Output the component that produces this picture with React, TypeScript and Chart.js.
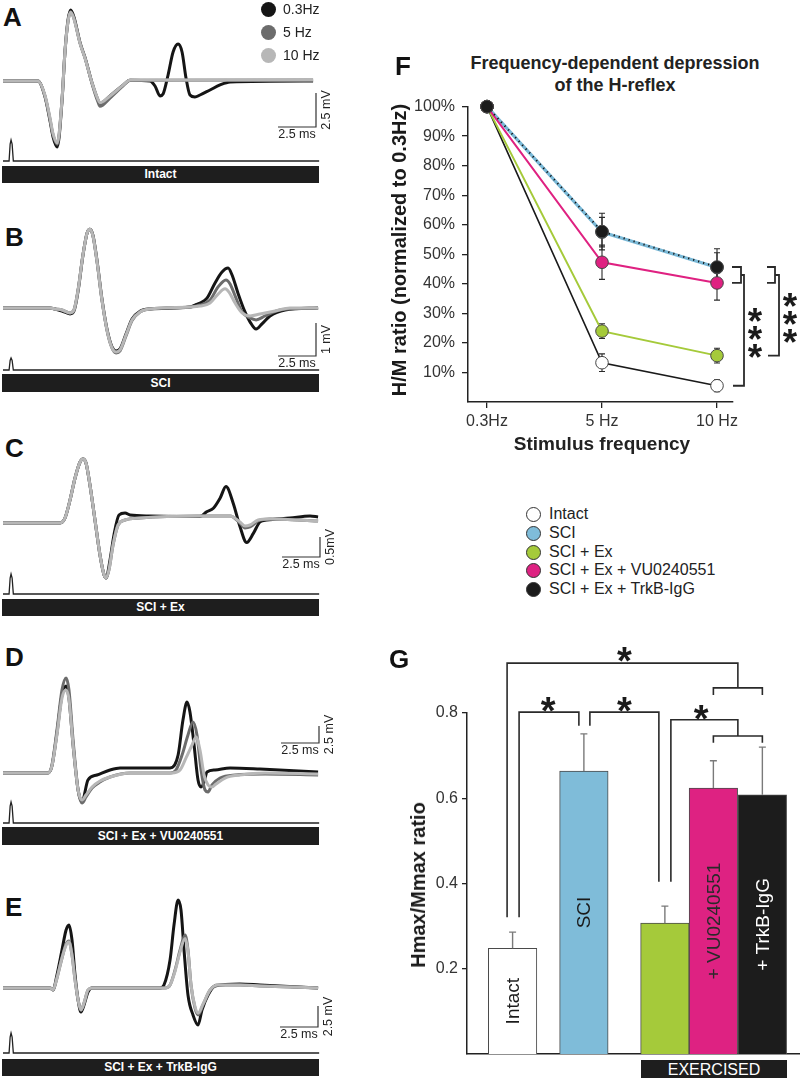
import React, { useEffect, useRef } from 'react';
import { Chart, registerables } from 'chart.js';

Chart.register(...registerables);

const FONT = "'Liberation Sans', Arial, Helvetica, sans-serif";
Chart.defaults.font.family = FONT;

/* ================= DATA ================= */

/* Panels A–E : evoked responses, [time (ms), amplitude (mV)] */
const TRACE_FREQS = ['0.3Hz', '5 Hz', '10 Hz'];
const STIMULUS = [[0, 0], [0.4, 0], [0.47, 0.8], [0.53, 1], [0.6, 0.8], [0.68, 0], [20.8, 0]];

const A_03HZ = [[0,0],[2.3,0],[2.76,-1.15],[3.09,-2.9],[3.29,-4.1],[3.57,-4.85],[3.88,-1.5],[4.08,2.2],[4.28,4.5],[4.45,5.22],[4.67,4.7],[5.07,2.8],[5.4,1.7],[5.86,-0.15],[6.25,-1.4],[6.38,-1.65],[7.04,-1.1],[7.9,-0.3],[8.36,0.05],[9.67,0],[10.0,-0.37],[10.33,-1.1],[10.53,-0.96],[10.86,0.44],[11.19,2.13],[11.52,2.72],[11.78,2.13],[12.04,0.22],[12.3,-1.03],[12.63,-1.18],[12.96,-1.03],[13.62,-0.66],[14.28,-0.29],[14.94,-0.07],[20.4,0]];
const A_5HZ = [[0,0],[2.3,0],[2.76,-1.1],[3.09,-2.8],[3.29,-3.95],[3.57,-4.65],[3.88,-1.4],[4.08,2.2],[4.28,4.4],[4.45,5.1],[4.67,4.6],[5.07,2.8],[5.4,1.7],[5.86,-0.2],[6.25,-1.55],[6.38,-1.85],[7.04,-1.25],[7.9,-0.35],[8.36,0.05],[20.4,0.07]];
const A_10HZ = [[0,0],[2.3,0],[2.76,-1.05],[3.09,-2.7],[3.29,-3.85],[3.57,-4.55],[3.88,-1.4],[4.08,2.2],[4.28,4.4],[4.45,5.05],[4.67,4.55],[5.07,2.75],[5.4,1.65],[5.86,-0.15],[6.25,-1.35],[6.38,-1.6],[7.04,-1.1],[7.9,-0.3],[8.36,0.07],[20.4,0.07]];

const B_03HZ = [[0,0],[3.09,0],[3.42,-0.03],[3.88,-0.09],[4.41,-0.18],[4.67,-0.09],[4.94,0.52],[5.26,1.6],[5.53,2.27],[5.72,2.39],[5.92,2.2],[6.19,1.42],[6.51,0.27],[6.84,-0.64],[7.17,-1.18],[7.44,-1.3],[7.7,-1.24],[8.09,-0.79],[8.49,-0.33],[9.01,-0.1],[9.67,-0.03],[12.3,0.03],[12.63,0.09],[12.96,0.15],[13.42,0.3],[13.95,0.76],[14.41,1.09],[14.81,1.21],[15.07,1.0],[15.46,0.45],[15.92,-0.12],[16.25,-0.42],[16.65,-0.64],[17.04,-0.48],[17.57,-0.24],[18.56,-0.06],[20.73,0]];
const B_5HZ = [[0,0],[3.09,0],[3.42,-0.03],[3.88,-0.06],[4.41,-0.15],[4.67,-0.06],[4.94,0.55],[5.26,1.61],[5.53,2.27],[5.72,2.39],[5.92,2.18],[6.19,1.39],[6.51,0.24],[6.84,-0.67],[7.17,-1.21],[7.44,-1.36],[7.7,-1.3],[8.09,-0.85],[8.49,-0.38],[9.01,-0.12],[9.67,-0.03],[12.3,0.03],[12.96,0.09],[13.62,0.24],[14.15,0.64],[14.67,0.85],[14.94,0.73],[15.33,0.3],[15.73,-0.12],[16.25,-0.3],[16.65,-0.36],[17.24,-0.24],[18.23,-0.06],[20.73,0]];
const B_10HZ = [[0,0],[3.09,0],[3.42,-0.03],[3.88,-0.06],[4.41,-0.15],[4.67,-0.06],[4.94,0.55],[5.26,1.61],[5.53,2.27],[5.72,2.39],[5.92,2.18],[6.19,1.39],[6.51,0.24],[6.84,-0.67],[7.17,-1.21],[7.44,-1.33],[7.7,-1.27],[8.09,-0.82],[8.49,-0.36],[9.01,-0.12],[9.67,-0.03],[12.3,0.03],[12.96,0.06],[13.62,0.15],[14.15,0.42],[14.61,0.58],[14.87,0.48],[15.27,0.15],[15.73,-0.15],[16.25,-0.24],[16.91,-0.18],[17.9,-0.09],[18.88,0],[20.73,0]];

const C_03HZ = [[0,0],[3.75,0],[4.08,0.125],[4.41,0.575],[4.74,1.125],[5.07,1.525],[5.26,1.6],[5.46,1.5],[5.72,0.95],[6.05,0.075],[6.38,-0.8],[6.65,-1.3],[6.78,-1.375],[7.04,-0.925],[7.3,-0.3],[7.63,0.2],[8.03,0.25],[8.36,0.2],[9.67,0.175],[12.96,0.16],[13.4,0.28],[13.84,0.37],[14.28,0.62],[14.67,0.91],[15.15,0.49],[15.59,-0.09],[16.03,-0.49],[16.47,-0.26],[16.91,0.03],[17.35,0.075],[18.88,0.125],[20.2,0.175],[20.73,0.15]];
const C_5HZ = [[0,0],[3.75,0],[4.08,0.125],[4.41,0.575],[4.74,1.125],[5.07,1.525],[5.26,1.6],[5.46,1.5],[5.72,0.95],[6.05,0.075],[6.38,-0.8],[6.65,-1.3],[6.78,-1.375],[6.97,-1.175],[7.24,-0.55],[7.57,-0.05],[8.03,0.075],[9.01,0.125],[12.96,0.175],[14.94,0.175],[15.59,0.0],[15.92,-0.125],[16.25,-0.1],[16.78,0.05],[17.57,0.1],[20.73,0.05]];
const C_10HZ = [[0,0],[3.75,0],[4.08,0.125],[4.41,0.575],[4.74,1.125],[5.07,1.525],[5.26,1.6],[5.46,1.5],[5.72,0.95],[6.05,0.075],[6.38,-0.8],[6.65,-1.3],[6.78,-1.375],[6.97,-1.175],[7.24,-0.55],[7.57,-0.05],[8.03,0.075],[9.01,0.125],[12.96,0.175],[14.94,0.175],[15.59,0.025],[15.92,-0.075],[16.25,-0.05],[16.78,0.075],[17.57,0.1],[20.73,0.05]];

const D_03HZ = [[0,0],[2.96,0],[3.22,1.03],[3.55,5.88],[3.88,11.47],[4.15,12.79],[4.34,11.0],[4.61,4.12],[4.94,-2.5],[5.2,-4.2],[5.59,-1.03],[6.18,-0.29],[7.04,0.44],[7.7,0.74],[10.99,0.74],[11.52,2.65],[11.84,7.79],[12.11,10.44],[12.3,8.97],[12.57,4.12],[12.83,-1.03],[13.03,-2.06],[13.23,-1.32],[13.42,0.15],[13.95,0.44],[14.94,0.74],[16.91,0.59],[20.73,0.15]];
const D_5HZ = [[0,0],[2.96,0],[3.22,1.18],[3.55,6.32],[3.88,12.2],[4.15,13.97],[4.34,12.2],[4.61,4.85],[4.94,-2.5],[5.2,-4.41],[5.46,-3.53],[5.86,-2.21],[6.38,-1.32],[7.04,-0.59],[8.36,0],[10.99,0],[11.38,0.44],[11.78,2.65],[12.17,5.59],[12.5,7.5],[12.76,5.59],[13.03,0.44],[13.29,-2.5],[13.49,-2.79],[13.75,-1.76],[14.28,-0.74],[15.27,-0.29],[17.24,-0.15],[20.73,-0.29]];
const D_10HZ = [[0,0],[2.96,0],[3.22,1.03],[3.55,5.6],[3.88,11.0],[4.15,12.2],[4.34,10.8],[4.61,4.1],[4.94,-2.5],[5.2,-3.97],[5.46,-3.23],[5.86,-2.06],[6.38,-1.18],[7.04,-0.59],[8.36,0],[11.12,0],[11.65,0.44],[12.04,2.21],[12.44,4.12],[12.7,5.29],[12.96,3.38],[13.23,-0.3],[13.49,-1.76],[13.75,-2.06],[14.01,-1.62],[14.61,-0.74],[15.59,-0.29],[17.24,0],[20.73,-0.15]];

const E_03HZ = [[0,0],[3.09,0],[3.29,-0.24],[3.55,1.55],[3.88,4.52],[4.15,6.9],[4.34,7.5],[4.54,5.71],[4.74,1.55],[4.94,-1.43],[5.13,-2.86],[5.33,-2.02],[5.59,-0.48],[5.86,0],[10.33,0],[10.59,0.36],[10.99,3.33],[11.25,7.5],[11.52,10.47],[11.71,9.28],[11.91,4.52],[12.17,-0.83],[12.5,-3.21],[12.83,-4.4],[13.09,-2.62],[13.49,-0.83],[13.95,0.24],[15.59,0.48],[16.91,0.36],[20.73,0]];
const E_5HZ = [[0,0],[3.09,0],[3.29,-0.24],[3.55,1.19],[3.88,3.57],[4.15,5.24],[4.34,5.6],[4.54,3.93],[4.74,0.95],[4.94,-1.43],[5.13,-2.62],[5.33,-1.79],[5.59,-0.24],[5.86,0],[10.66,0],[10.99,0.36],[11.32,2.14],[11.65,4.52],[11.98,6.3],[12.17,4.52],[12.37,0.36],[12.63,-2.38],[12.83,-3.21],[13.16,-2.02],[13.62,-0.24],[14.15,0.36],[15.59,0.36],[16.91,0.24],[20.73,0]];
const E_10HZ = [[0,0],[3.09,0],[3.29,-0.24],[3.55,1.19],[3.88,3.57],[4.15,5.1],[4.34,5.47],[4.54,3.93],[4.74,0.95],[4.94,-1.43],[5.13,-2.62],[5.33,-1.79],[5.59,-0.24],[5.86,0],[10.66,0],[10.99,0.36],[11.32,2.0],[11.65,4.3],[11.98,5.9],[12.17,4.4],[12.37,0.36],[12.63,-2.2],[12.83,-3.0],[13.16,-1.9],[13.62,-0.24],[14.15,0.36],[15.59,0.36],[16.91,0.24],[20.73,0]];

/* Panel F : H/M ratio normalised to 0.3 Hz (%) */
const F_FREQS = ['0.3Hz', '5 Hz', '10 Hz'];
const F_TICKS = [10, 20, 30, 40, 50, 60, 70, 80, 90, 100];
const F_GROUPS = ['Intact', 'SCI', 'SCI + Ex', 'SCI + Ex + VU0240551', 'SCI + Ex + TrkB-IgG'];
const F_INTACT = [100, 13.3, 5.5];
const F_INTACT_ERR = [0, 3, 2];
const F_SCI = [100, 57.5, 45.5];
const F_SCI_ERR = [0, 5, 5];
const F_EX = [100, 24, 15.7];
const F_EX_ERR = [0, 2.5, 2.5];
const F_VU = [100, 47.3, 40.3];
const F_VU_ERR = [0, 5.8, 5.8];
const F_TRKB = [100, 57.7, 45.7];
const F_TRKB_ERR = [0, 6.2, 6.2];

/* Panel G : Hmax/Mmax ratio */
const G_GROUPS = ['Intact', 'SCI', 'SCI + Ex', 'SCI + Ex + VU0240551', 'SCI + Ex + TrkB-IgG'];
const G_BAR_TEXT = ['Intact', 'SCI', '', '+ VU0240551', '+ TrkB-IgG'];
const G_VALUES = [0.248, 0.664, 0.307, 0.624, 0.608];
const G_ERRORS = [0.038, 0.087, 0.04, 0.064, 0.112];
const G_TICKS = [0.2, 0.4, 0.6, 0.8];
/* significance brackets: [bar index, pixel nudge, value] */
const G_BRACKETS = [
  [[0, -5.5, 0.321], [0, -5.5, 0.917], [3.5, 0, 0.917], [3.5, 0, 0.859]],
  [[3, 0, 0.842], [3, 0, 0.859], [4, 0, 0.859], [4, 0, 0.842]],
  [[0, 6.5, 0.321], [0, 6.5, 0.802], [1, -5, 0.802], [1, -5, 0.77]],
  [[1, 6, 0.77], [1, 6, 0.802], [2, -6, 0.802], [2, -6, 0.404]],
  [[2, 6, 0.404], [2, 6, 0.784], [3.5, 0, 0.784], [3.5, 0, 0.746]],
  [[3, 0, 0.73], [3, 0, 0.746], [4, 0, 0.746], [4, 0, 0.73]],
];
const G_STARS = [[1.5, 0.943], [0.5, 0.826], [1.5, 0.826], [2.75, 0.807]];

/* ================= STYLE / LAYOUT ================= */
const TRACE_COLORS = ['#151515', '#6c6c6c', '#b7b7b7'];
const GROUP_COLORS = ['#ffffff', '#7fbcd9', '#a5ca3a', '#de2282', '#1c1c1c'];
const G_TEXT_COLORS = ['#1a1a1a', '#1a1a1a', '#1a1a1a', '#2a2a2a', '#ffffff'];
const PX_PER_MS = 38 / 2.5;
const TRACE_X0 = 3;
const TRACE_W = 345;
const G_POS = [0.94, 2.41, 4.08, 5.08, 6.09]; // bar centres on the x scale (bar-width units)

const TRACE_PANELS = [
  { letter: 'A', top: 0, height: 168, baseline: 81, mvPerPx: 2.5 / 34, stim: 161, pulse: 140, corner: [316, 127], scaleMv: 2.5, scaleLabel: '2.5 mV', barTop: 166, barH: 17, name: 'Intact', letterTop: 7, letterLeft: 3, traces: [A_03HZ, A_5HZ, A_10HZ] },
  { letter: 'B', top: 200, height: 176, baseline: 308, mvPerPx: 1 / 33, stim: 370, pulse: 358, corner: [316, 356], scaleMv: 1, scaleLabel: '1 mV', barTop: 374, barH: 18, name: 'SCI', letterTop: 227, letterLeft: 5, traces: [B_03HZ, B_5HZ, B_10HZ] },
  { letter: 'C', top: 420, height: 178, baseline: 523, mvPerPx: 0.5 / 20, stim: 594, pulse: 574, corner: [320, 557], scaleMv: 0.5, scaleLabel: '0.5mV', barTop: 599, barH: 17, name: 'SCI + Ex', letterTop: 438, letterLeft: 5, traces: [C_03HZ, C_5HZ, C_10HZ] },
  { letter: 'D', top: 640, height: 186, baseline: 773, mvPerPx: 2.5 / 17, stim: 823, pulse: 802, corner: [319, 743], scaleMv: 2.5, scaleLabel: '2.5 mV', barTop: 827, barH: 18, name: 'SCI + Ex + VU0240551', letterTop: 647, letterLeft: 5, traces: [D_03HZ, D_5HZ, D_10HZ] },
  { letter: 'E', top: 860, height: 196, baseline: 988, mvPerPx: 2.5 / 21, stim: 1053, pulse: 1033, corner: [318, 1027], scaleMv: 2.5, scaleLabel: '2.5 mV', barTop: 1059, barH: 17, name: 'SCI + Ex + TrkB-IgG', letterTop: 897, letterLeft: 5, traces: [E_03HZ, E_5HZ, E_10HZ] },
];

/* ================= CHART CONFIGS ================= */
function traceConfig(p: any) {
  const H = p.height;
  const b = p.baseline - p.top;
  const m = p.mvPerPx;
  const s = p.stim - p.top;
  const u = p.stim - p.pulse;
  const scaleBar = {
    id: 'scaleBar',
    afterDraw(chart: any) {
      const { ctx } = chart;
      const x = chart.scales.x, y = chart.scales.y;
      const cx = p.corner[0], cy = p.corner[1] - p.top;
      const h = x.getPixelForValue(2.5) - x.getPixelForValue(0);
      const v = y.getPixelForValue(0) - y.getPixelForValue(p.scaleMv);
      ctx.save();
      ctx.strokeStyle = '#333';
      ctx.lineWidth = 1.2;
      ctx.beginPath();
      ctx.moveTo(cx - h, cy);
      ctx.lineTo(cx, cy);
      ctx.lineTo(cx, cy - v);
      ctx.stroke();
      ctx.fillStyle = '#222';
      ctx.font = `12.5px ${FONT}`;
      ctx.textAlign = 'center';
      ctx.textBaseline = 'alphabetic';
      ctx.fillText('2.5 ms', cx - h / 2, cy + 10.5);
      ctx.translate(cx + 14, cy - v / 2);
      ctx.rotate(-Math.PI / 2);
      ctx.fillText(p.scaleLabel, 0, 0);
      ctx.restore();
    },
  };
  return {
    type: 'line',
    data: {
      datasets: [
        ...p.traces.map((pts: number[][], i: number) => ({
          label: TRACE_FREQS[i],
          data: pts.map(([x, y]) => ({ x, y })),
          borderColor: TRACE_COLORS[i],
          borderWidth: 3,
          pointRadius: 0,
          cubicInterpolationMode: 'monotone',
          borderJoinStyle: 'round',
          yAxisID: 'y',
          order: 3 - i,
        })),
        {
          label: 'stimulus',
          data: STIMULUS.map(([x, y]) => ({ x, y })),
          borderColor: '#222',
          borderWidth: 1.3,
          pointRadius: 0,
          tension: 0,
          yAxisID: 'ys',
          order: 0,
        },
      ],
    },
    options: {
      animation: false,
      responsive: false,
      devicePixelRatio: 1,
      events: [],
      layout: { padding: 0 },
      plugins: { legend: { display: false }, tooltip: { enabled: false } },
      scales: {
        x: { type: 'linear', display: false, min: -TRACE_X0 / PX_PER_MS, max: (TRACE_W - TRACE_X0) / PX_PER_MS },
        y: { type: 'linear', display: false, min: -(H - b) * m, max: b * m },
        ys: { type: 'linear', display: false, min: -(H - s) / u, max: s / u },
      },
    },
    plugins: [scaleBar],
  };
}

function drawStar(ctx: any, x: number, y: number, size: number) {
  ctx.font = `bold ${size}px ${FONT}`;
  ctx.textAlign = 'center';
  ctx.textBaseline = 'alphabetic';
  ctx.fillText('*', x, y + size * 0.58);
}

const F_BRACKET_X = [[15, 24, 27], [50, 58, 62]];
const F_STAR_DX = [38, 73];

function fConfig() {
  const series = [
    { data: F_INTACT, err: F_INTACT_ERR, line: '#1a1a1a', fill: '#ffffff', width: 1.6, order: 4, dash: [] },
    { data: F_SCI, err: F_SCI_ERR, line: '#7ab9d7', fill: '#7ab9d7', width: 3.2, order: 5, dash: [] },
    { data: F_EX, err: F_EX_ERR, line: '#a5ca3a', fill: '#a5ca3a', width: 2, order: 3, dash: [] },
    { data: F_VU, err: F_VU_ERR, line: '#df2181', fill: '#df2181', width: 2, order: 2, dash: [] },
    { data: F_TRKB, err: F_TRKB_ERR, line: '#111111', fill: '#1c1c1c', width: 2, order: 1, dash: [1.2, 4] },
  ];
  const errPlugin = {
    id: 'fErrors',
    beforeDatasetsDraw(chart: any) {
      const { ctx } = chart;
      const y = chart.scales.y;
      ctx.save();
      ctx.strokeStyle = '#2a2a2a';
      ctx.lineWidth = 1.1;
      chart.data.datasets.forEach((ds: any, di: number) => {
        const meta = chart.getDatasetMeta(di);
        meta.data.forEach((pt: any, i: number) => {
          const e = ds.errors[i];
          if (!e) return;
          const v = ds.data[i].y;
          const t = y.getPixelForValue(v + e), bt = y.getPixelForValue(v - e);
          ctx.beginPath();
          ctx.moveTo(pt.x, t); ctx.lineTo(pt.x, bt);
          ctx.moveTo(pt.x - 3, t); ctx.lineTo(pt.x + 3, t);
          ctx.moveTo(pt.x - 3, bt); ctx.lineTo(pt.x + 3, bt);
          ctx.stroke();
        });
      });
      ctx.restore();
    },
  };
  const bracketPlugin = {
    id: 'fBrackets',
    afterDatasetsDraw(chart: any) {
      const { ctx } = chart;
      const x = chart.scales.x, y = chart.scales.y;
      const x10 = x.getPixelForValue(2);
      const top = y.getPixelForValue(F_TRKB[2]);
      const bot = y.getPixelForValue(F_VU[2]);
      const mid = (top + bot) / 2;
      const targets = [F_INTACT[2], F_EX[2]];
      ctx.save();
      ctx.strokeStyle = '#2a2a2a';
      ctx.fillStyle = '#1a1a1a';
      ctx.lineWidth = 1.8;
      F_BRACKET_X.forEach(([a, bb, c], k) => {
        const ty = y.getPixelForValue(targets[k]);
        ctx.beginPath();
        ctx.moveTo(x10 + a, top); ctx.lineTo(x10 + bb, top); ctx.lineTo(x10 + bb, bot); ctx.lineTo(x10 + a, bot);
        ctx.moveTo(x10 + bb, mid); ctx.lineTo(x10 + c, mid); ctx.lineTo(x10 + c, ty); ctx.lineTo(x10 + a + 1, ty);
        ctx.stroke();
        const cy = (mid + ty) / 2;
        [-18, 0, 18].forEach((d) => drawStar(ctx, x10 + F_STAR_DX[k], cy + d, 37));
      });
      ctx.restore();
    },
  };
  const tickFont = { size: 16, family: FONT };
  return {
    type: 'line',
    data: {
      datasets: series.map((s, i) => ({
        label: F_GROUPS[i],
        data: s.data.map((v, j) => ({ x: j, y: v })),
        errors: s.err,
        borderColor: s.line,
        borderWidth: s.width,
        borderDash: s.dash,
        backgroundColor: s.fill,
        pointBackgroundColor: s.fill,
        pointBorderColor: '#444',
        pointBorderWidth: 1,
        pointRadius: 6.3,
        tension: 0,
        clip: false,
        order: s.order,
      })),
    },
    options: {
      animation: false,
      responsive: false,
      devicePixelRatio: 1,
      events: [],
      layout: { padding: { top: 13, right: 67, left: 0, bottom: 0 } },
      plugins: { legend: { display: false }, tooltip: { enabled: false } },
      scales: {
        x: {
          type: 'linear',
          min: -19 / 115,
          max: 246 / 115,
          offset: false,
          afterBuildTicks: (sc: any) => { sc.ticks = F_FREQS.map((_, i) => ({ value: i })); },
          afterFit: (sc: any) => { sc.height = 38; },
          ticks: { callback: (v: any) => F_FREQS[v] ?? '', font: tickFont, color: '#333', padding: 4, maxRotation: 0, autoSkip: false },
          grid: { display: true, drawOnChartArea: false, drawTicks: true, tickLength: 6, color: '#222', lineWidth: 1.3 },
          border: { display: true, color: '#222', width: 1.5 },
        },
        y: {
          type: 'linear',
          min: 0,
          max: 100,
          afterBuildTicks: (sc: any) => { sc.ticks = F_TICKS.map((v) => ({ value: v })); },
          afterFit: (sc: any) => { sc.width = 68; },
          ticks: { callback: (v: any) => v + '%', font: tickFont, color: '#333', padding: 7, autoSkip: false },
          grid: { display: true, drawOnChartArea: false, drawTicks: true, tickLength: 6, color: '#222', lineWidth: 1.3 },
          border: { display: true, color: '#222', width: 1.5 },
        },
      },
    },
    plugins: [errPlugin, bracketPlugin],
  };
}

function gConfig() {
  const posAt = (i: number) => {
    const lo = Math.floor(i), hi = Math.ceil(i);
    return G_POS[lo] + (i - lo) * (G_POS[hi] - G_POS[lo]);
  };
  const overlay = {
    id: 'gOverlay',
    afterDatasetsDraw(chart: any) {
      const { ctx } = chart;
      const x = chart.scales.x, y = chart.scales.y;
      const meta = chart.getDatasetMeta(0);
      ctx.save();
      ctx.strokeStyle = '#7a7a7a';
      ctx.lineWidth = 1.4;
      meta.data.forEach((el: any, i: number) => {
        const t = y.getPixelForValue(G_VALUES[i] + G_ERRORS[i]);
        const b0 = y.getPixelForValue(G_VALUES[i]);
        ctx.beginPath();
        ctx.moveTo(el.x, b0); ctx.lineTo(el.x, t);
        ctx.moveTo(el.x - 3.5, t); ctx.lineTo(el.x + 3.5, t);
        ctx.stroke();
      });
      ctx.font = `19px ${FONT}`;
      ctx.textAlign = 'center';
      ctx.textBaseline = 'middle';
      meta.data.forEach((el: any, i: number) => {
        if (!G_BAR_TEXT[i]) return;
        ctx.save();
        ctx.translate(el.x + 1, y.getPixelForValue(G_VALUES[i] / 2));
        ctx.rotate(-Math.PI / 2);
        ctx.fillStyle = G_TEXT_COLORS[i];
        ctx.fillText(G_BAR_TEXT[i], 0, 0);
        ctx.restore();
      });
      ctx.strokeStyle = '#2a2a2a';
      ctx.lineWidth = 1.6;
      G_BRACKETS.forEach((pts) => {
        ctx.beginPath();
        pts.forEach(([bi, dx, v], k) => {
          const px = x.getPixelForValue(posAt(bi)) + dx;
          const py = y.getPixelForValue(v);
          if (k === 0) ctx.moveTo(px, py); else ctx.lineTo(px, py);
        });
        ctx.stroke();
      });
      ctx.fillStyle = '#1a1a1a';
      G_STARS.forEach(([bi, v]) => drawStar(ctx, x.getPixelForValue(posAt(bi)), y.getPixelForValue(v), 38));
      ctx.restore();
    },
  };
  const tickFont = { size: 16, family: FONT };
  return {
    type: 'bar',
    data: {
      datasets: [{
        label: 'Hmax/Mmax',
        data: G_VALUES.map((v, i) => ({ x: G_POS[i], y: v })),
        backgroundColor: GROUP_COLORS,
        borderColor: '#4a4a4a',
        borderWidth: 1,
        borderSkipped: 'bottom',
        barThickness: 48.5,
      }],
    },
    options: {
      animation: false,
      responsive: false,
      devicePixelRatio: 1,
      events: [],
      layout: { padding: { top: 83, bottom: 24, left: 0, right: 0 } },
      plugins: { legend: { display: false }, tooltip: { enabled: false } },
      scales: {
        x: {
          type: 'linear',
          min: 0,
          max: 333 / 48.5,
          offset: false,
          ticks: { display: false },
          grid: { display: false },
          border: { display: true, color: '#222', width: 1.5 },
          afterFit: (sc: any) => { sc.height = 0; },
        },
        y: {
          type: 'linear',
          min: 0,
          max: 0.8,
          afterBuildTicks: (sc: any) => { sc.ticks = G_TICKS.map((v) => ({ value: v })); },
          afterFit: (sc: any) => { sc.width = 67; },
          ticks: { callback: (v: any) => Number(v).toFixed(1), font: tickFont, color: '#333', padding: 4, autoSkip: false },
          grid: { display: true, drawOnChartArea: false, drawTicks: true, tickLength: 5, color: '#222', lineWidth: 1.3 },
          border: { display: true, color: '#222', width: 1.5 },
        },
      },
    },
    plugins: [overlay],
  };
}

/* ================= COMPONENTS ================= */
function ChartCanvas({ left, top, width, height, make }: any) {
  const ref = useRef<HTMLCanvasElement | null>(null);
  useEffect(() => {
    if (!ref.current) return;
    const chart = new Chart(ref.current, make());
    return () => chart.destroy();
  }, []);
  return (
    <div style={{ position: 'absolute', left, top, width, height }}>
      <canvas ref={ref} width={width} height={height} style={{ display: 'block', width, height }} />
    </div>
  );
}

function Letter({ ch, left, capTop }: any) {
  return (
    <div style={{ position: 'absolute', left, top: capTop - 3.5, fontSize: 26, lineHeight: '26px', fontWeight: 'bold', color: '#111' }}>{ch}</div>
  );
}

function CText({ x, y, size, bold, rotate, color, children }: any) {
  return (
    <div style={{
      position: 'absolute', left: x, top: y, fontSize: size, lineHeight: 1, whiteSpace: 'nowrap',
      fontWeight: bold ? 'bold' : 'normal', color: color || '#1a1a1a',
      transform: `translate(-50%, -50%)${rotate ? ' rotate(-90deg)' : ''}`,
    }}>{children}</div>
  );
}

function TracePanel({ p }: any) {
  return (
    <>
      <Letter ch={p.letter} left={p.letterLeft} capTop={p.letterTop} />
      <ChartCanvas left={0} top={p.top} width={TRACE_W} height={p.height} make={() => traceConfig(p)} />
      <div style={{
        position: 'absolute', left: 2, top: p.barTop, width: 317, height: p.barH, background: '#1e1e1e',
        color: '#fff', fontWeight: 'bold', fontSize: 12, lineHeight: `${p.barH}px`, textAlign: 'center', whiteSpace: 'nowrap',
      }}>{p.name}</div>
    </>
  );
}

const A_LEGEND_Y = [9, 32, 55];
const F_LEGEND_Y = [514, 533, 552, 570, 589];

export default function App() {
  return (
    <div style={{ position: 'absolute', left: 0, top: 0, width: 800, height: 1078, background: '#fff', fontFamily: FONT, overflow: 'hidden', color: '#1a1a1a' }}>
      {TRACE_PANELS.map((p) => <TracePanel key={p.letter} p={p} />)}

      {TRACE_FREQS.map((f, i) => (
        <React.Fragment key={f}>
          <div style={{ position: 'absolute', left: 268 - 7.5, top: A_LEGEND_Y[i] - 7.5, width: 15, height: 15, borderRadius: '50%', background: TRACE_COLORS[i] }} />
          <div style={{ position: 'absolute', left: 283, top: A_LEGEND_Y[i] - 7, fontSize: 14, lineHeight: '14px', color: '#222', whiteSpace: 'nowrap' }}>{f}</div>
        </React.Fragment>
      ))}

      <Letter ch="F" left={395} capTop={56} />
      <div style={{ position: 'absolute', left: 415, top: 52, width: 400, textAlign: 'center', fontSize: 18, lineHeight: '22px', fontWeight: 'bold', color: '#222' }}>
        Frequency-dependent depression<br />of the H-reflex
      </div>
      <ChartCanvas left={400} top={90} width={400} height={350} make={fConfig} />
      <CText x={399} y={250} size={20} bold rotate>H/M ratio (normalized to 0.3Hz)</CText>
      <CText x={602} y={443} size={19} bold color="#222">Stimulus frequency</CText>

      {F_GROUPS.map((g, i) => (
        <React.Fragment key={g}>
          <div style={{ position: 'absolute', left: 533 - 7.5, top: F_LEGEND_Y[i] - 7.5, width: 15, height: 15, boxSizing: 'border-box', borderRadius: '50%', background: GROUP_COLORS[i], border: '1px solid #333' }} />
          <div style={{ position: 'absolute', left: 549, top: F_LEGEND_Y[i] - 8, fontSize: 16, lineHeight: '16px', color: '#222', whiteSpace: 'nowrap' }}>{g}</div>
        </React.Fragment>
      ))}

      <Letter ch="G" left={389} capTop={649} />
      <ChartCanvas left={400} top={630} width={400} height={448} make={gConfig} />
      <CText x={418} y={885} size={20} bold rotate>Hmax/Mmax ratio</CText>
      <div style={{ position: 'absolute', left: 641, top: 1060, width: 146, height: 18, background: '#1e1e1e', color: '#fff', fontSize: 16, lineHeight: '19px', textAlign: 'center' }}>EXERCISED</div>
    </div>
  );
}
